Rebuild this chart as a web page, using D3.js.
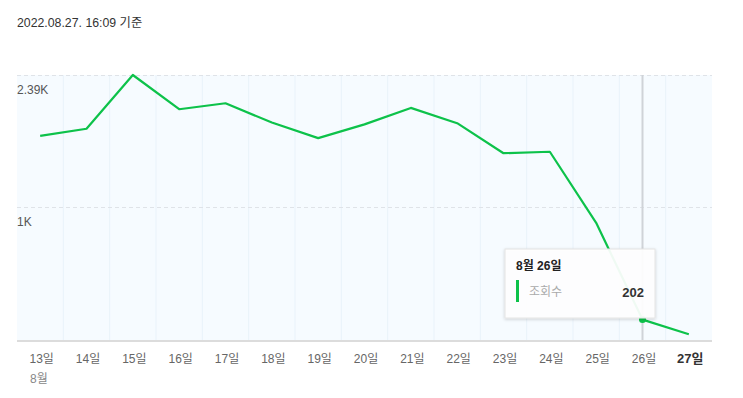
<!DOCTYPE html>
<html>
<head>
<meta charset="utf-8">
<script src="https://cdn.jsdelivr.net/npm/d3@7"></script>
<style>
  body { margin: 0; background: #fff; }
  svg { font-family: "Liberation Sans", Arial, "Noto Sans CJK KR", sans-serif; }
</style>
</head>
<body>
<div id="chart"></div>
<script>
const days = ["13일", "14일", "15일", "16일", "17일", "18일", "19일", "20일", "21일", "22일", "23일", "24일", "25일", "26일", "27일"];
const views = [1694, 1771, 2390, 1988, 2056, 1839, 1670, 1819, 2003, 1832, 1512, 1527, 860, 202, 134];
const yTicks = [2390, 1000];
const yTickLabels = ["2.39K", "1K"];
const hoverIndex = 13;

const width = 743, height = 398;
const plotLeft = 17, plotRight = 712, plotTop = 75, plotBottom = 340;

const svg = d3.select("#chart").append("svg")
    .attr("width", width)
    .attr("height", height);

svg.append("text")
    .attr("x", 17)
    .attr("y", 27)
    .style("font-size", "12.3px")
    .attr("fill", "#333")
    .text("2022.08.27. 16:09 기준");

const x = d3.scaleBand().domain(days).range([plotLeft, plotRight]);
const y = d3.scalePow().exponent(0.64).domain([110, 2390]).range([plotBottom, plotTop]);
const cx = d => x(d) + x.bandwidth() / 2;

// plot background
svg.append("rect")
    .attr("x", plotLeft).attr("y", plotTop)
    .attr("width", plotRight - plotLeft).attr("height", plotBottom - plotTop)
    .attr("fill", "#f6fbff");

// vertical band gridlines
svg.selectAll(".vgrid")
    .data(days.slice(1))
    .join("line")
    .attr("x1", d => x(d)).attr("x2", d => x(d))
    .attr("y1", plotTop).attr("y2", plotBottom)
    .attr("stroke", "#e9f2fa")
    .attr("stroke-width", 1);

// horizontal dashed gridlines
svg.selectAll(".hgrid")
    .data(yTicks)
    .join("line")
    .attr("x1", plotLeft).attr("x2", plotRight)
    .attr("y1", d => Math.round(y(d)) + 0.5).attr("y2", d => Math.round(y(d)) + 0.5)
    .attr("stroke", "#dfe3e8")
    .attr("stroke-dasharray", "4,3");

svg.selectAll(".ylabel")
    .data(yTicks)
    .join("text")
    .attr("x", plotLeft)
    .attr("y", d => y(d) + 19)
    .style("font-size", "12px")
    .attr("fill", "#555")
    .text((d, i) => yTickLabels[i]);

// hover guide line
svg.append("line")
    .attr("x1", cx(days[hoverIndex]))
    .attr("x2", cx(days[hoverIndex]))
    .attr("y1", plotTop).attr("y2", plotBottom)
    .attr("stroke", "#cfd3d8")
    .attr("stroke-width", 2);

// x axis line
svg.append("line")
    .attr("x1", plotLeft).attr("x2", plotRight)
    .attr("y1", plotBottom + 1).attr("y2", plotBottom + 1)
    .attr("stroke", "#dcdcdc")
    .attr("stroke-width", 2);

svg.selectAll(".xlabel")
    .data(days)
    .join("text")
    .attr("x", d => cx(d) + 1.5)
    .attr("y", 363)
    .attr("text-anchor", "middle")
    .style("font-size", (d, i) => i == days.length - 1 ? "13px" : "12px")
    .style("font-weight", (d, i) => i == days.length - 1 ? "bold" : "normal")
    .attr("fill", (d, i) => i == days.length - 1 ? "#333" : "#666")
    .text(d => d);

svg.append("text")
    .attr("x", 30)
    .attr("y", 383)
    .style("font-size", "12px")
    .attr("fill", "#888")
    .text("8월");

const line = d3.line()
    .x((d, i) => cx(days[i]))
    .y(d => y(d));

svg.append("path")
    .datum(views)
    .attr("d", line)
    .attr("fill", "none")
    .attr("stroke", "#0dc24a")
    .attr("stroke-width", 2.2)
    .attr("stroke-linejoin", "round");

svg.append("circle")
    .attr("cx", cx(days[hoverIndex]))
    .attr("cy", y(views[hoverIndex]))
    .attr("r", 3.5)
    .attr("fill", "#0dc24a");

// tooltip
const defs = svg.append("defs");
const filter = defs.append("filter").attr("id", "shadow")
    .attr("x", "-10%").attr("y", "-10%").attr("width", "120%").attr("height", "130%");
filter.append("feDropShadow")
    .attr("dx", 0).attr("dy", 1).attr("stdDeviation", 1.5)
    .attr("flood-color", "#000").attr("flood-opacity", 0.18);

const tip = svg.append("g").attr("transform", "translate(505,249)");
tip.append("rect")
    .attr("width", 150).attr("height", 69)
    .attr("fill", "#fff")
    .attr("fill-opacity", 0.93)
    .attr("stroke", "#e4e4e4")
    .attr("filter", "url(#shadow)");
tip.append("text")
    .attr("x", 11).attr("y", 21)
    .style("font-size", "12px")
    .style("font-weight", "bold")
    .attr("fill", "#222")
    .text("8월 " + days[hoverIndex]);
tip.append("rect")
    .attr("x", 11).attr("y", 31)
    .attr("width", 3).attr("height", 22)
    .attr("fill", "#0dc24a");
tip.append("text")
    .attr("x", 24).attr("y", 47)
    .style("font-size", "12px")
    .attr("fill", "#aaa")
    .text("조회수");
tip.append("text")
    .attr("x", 139).attr("y", 48)
    .attr("text-anchor", "end")
    .style("font-size", "13px")
    .style("font-weight", "bold")
    .attr("fill", "#333")
    .text(views[hoverIndex]);
</script>
</body>
</html>
